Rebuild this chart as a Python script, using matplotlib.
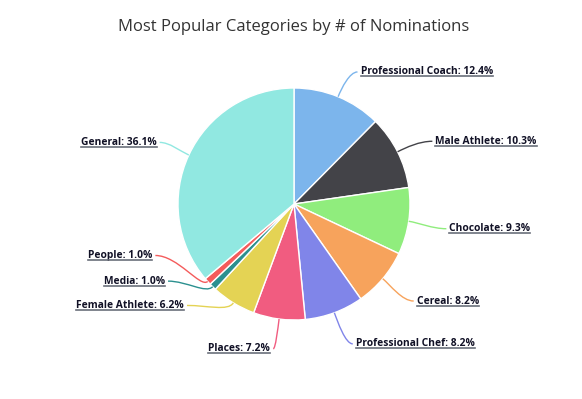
import numpy as np
import matplotlib
matplotlib.use("Agg")
import matplotlib.pyplot as plt
from matplotlib.path import Path
from matplotlib.patches import PathPatch
from matplotlib.lines import Line2D

categories = ["Professional Coach", "Male Athlete", "Chocolate", "Cereal",
              "Professional Chef", "Places", "Female Athlete", "Media",
              "People", "General"]
shares = [12.4, 10.3, 9.3, 8.2, 8.2, 7.2, 6.2, 1.0, 1.0, 36.1]
colors = ["#7cb5ec", "#434348", "#90ed7d", "#f7a35c", "#8085e9",
          "#f15c80", "#e4d354", "#2b908f", "#f45b5b", "#91e8e1"]

W, H = 582, 399
CX, CY, R = 294, 399 - 204, 116
DIST = 30
# labels that got pushed apart on the crowded left side (pixel shift, + is up)
label_shift = {"Female Athlete": 23, "Media": 27, "People": 46}

fig = plt.figure(figsize=(W / 100, H / 100), dpi=100)
ax = fig.add_axes([0, 0, 1, 1])

wedges, _ = ax.pie(shares, colors=colors, startangle=90, counterclock=False,
                   center=(CX, CY), radius=R, frame=True,
                   wedgeprops=dict(edgecolor="white", linewidth=1))
ax.set_xlim(0, W)
ax.set_ylim(0, H)
ax.axis("off")

fig.text(0.505, 1 - 27 / H, "Most Popular Categories by # of Nominations",
         ha="center", va="center", fontsize=12.0, color="#333333",
         family="Open Sans")

texts = []
for w, name, val, col in zip(wedges, categories, shares, colors):
    mid = np.deg2rad((w.theta1 + w.theta2) / 2)
    right = np.cos(mid) >= 0
    ly = CY + (R + DIST) * np.sin(mid) + label_shift.get(name, 0)
    dy = ly - CY
    dx = np.sqrt(max((R + DIST) ** 2 - dy ** 2, 0))
    lx = CX + dx if right else CX - dx
    if right:
        ly -= 3
    tx = lx + 11 if right else lx - 5
    ex = tx - 3 if right else tx + 3
    p0 = (CX + R * np.cos(mid), CY + R * np.sin(mid))
    p1 = (CX + (R + 10) * np.cos(mid), CY + (R + 10) * np.sin(mid))
    c1 = (ex + 0.5 * (p1[0] - ex), ly)
    path = Path([p0, p1, c1, (ex, ly)],
                [Path.MOVETO, Path.CURVE4, Path.CURVE4, Path.CURVE4])
    ax.add_patch(PathPatch(path, fill=False, edgecolor=col, lw=1))
    t = ax.text(tx, ly, f"{name}: {val:.1f}%", ha="left" if right else "right",
                va="center", fontsize=7.4, fontweight="bold", color="#111126",
                family="Open Sans")
    texts.append(t)

fig.canvas.draw()
for t in texts:
    bb = t.get_window_extent()
    y = bb.y0 + 1
    fig.add_artist(Line2D([bb.x0 / W, bb.x1 / W], [y / H, y / H],
                          transform=fig.transFigure, color="#6a6f7a", lw=1.2))

fig.savefig("out.png", dpi=100, facecolor="white")
